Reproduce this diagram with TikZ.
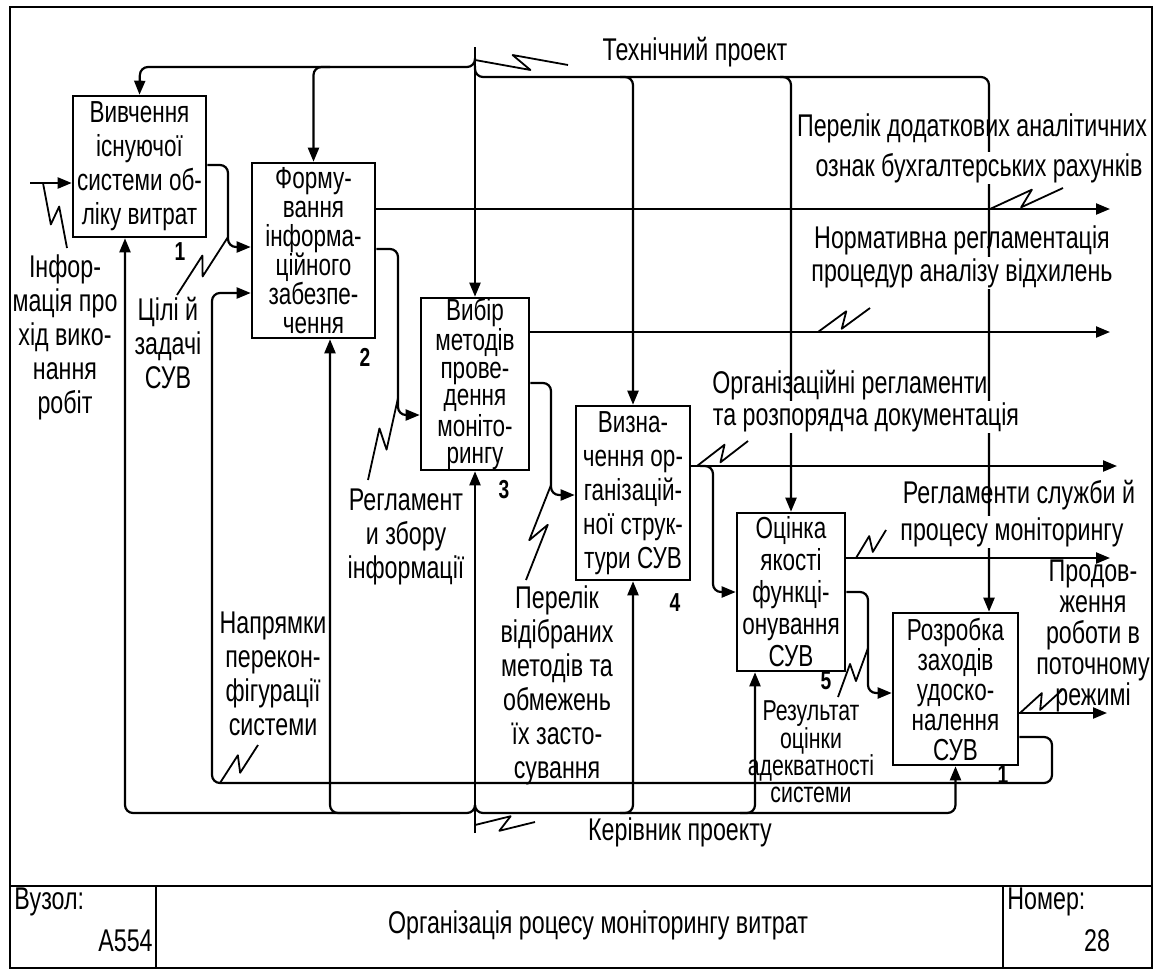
\documentclass[tikz,border=0pt]{standalone}
\usepackage{fontspec}
\setmainfont{Liberation Sans}[FakeStretch=0.74]
\usepackage{tikz}
\usetikzlibrary{arrows.meta, calc}

\begin{document}
\begin{tikzpicture}[x=0.5pt, y=-0.5pt,
    box/.style={draw, line width=1.3pt, inner sep=0pt, align=center, font=\fontsize{15.2}{#1}\selectfont},
    box/.default=16,
    lab/.style={align=center, inner sep=0pt, font=\fontsize{15.7}{#1}\selectfont},
    lab/.default=17,
    wb/.style={fill=white, inner sep=0.5pt},
    num/.style={inner sep=0pt, font=\fontsize{13}{15}\selectfont\bfseries},
    con/.style={line width=1.1pt, rounded corners=4pt},
    arr/.style={con, -{Triangle[length=7pt,width=5.5pt]}},
    zig/.style={line width=0.9pt, line join=round}]

    \useasboundingbox (0,0) rectangle (1160,969);

    % frame and title block
    \draw[line width=1pt] (10,7) rectangle (1152,968);
    \draw[line width=1.2pt] (10,886) -- (1152,886);
    \draw[line width=1pt] (156,886) -- (156,968);
    \draw[line width=1pt] (1003,886) -- (1003,968);
    \node[lab, anchor=west] (uzol) at (14,902) {Вузол:};
    \node[lab, anchor=east] (a554) at (153,941) {A554};
    \node[lab] (title) at (598,925) {Організація роцесу моніторингу витрат};
    \node[lab, anchor=west] (nomer) at (1007,902) {Номер:};
    \node[lab] (n28) at (1097,941) {28};

    % functions
    \node[box=17, minimum width=66.5pt, minimum height=70.5pt] (b1) at (139.5,166.5)
        {Вивчення\\існуючої\\системи об-\\ліку витрат};
    \node[box=14.5, minimum width=61.5pt, minimum height=87.5pt] (b2) at (313.5,250.5)
        {Форму-\\вання\\інформа-\\ційного\\забезпе-\\чення};
    \node[box=13.8, minimum width=54pt, minimum height=86pt] (b3) at (475,384)
        {Вибір\\методів\\прове-\\дення\\моніто-\\рингу};
    \node[box=17, minimum width=57pt, minimum height=87pt] (b4) at (633,493)
        {Визна-\\чення ор-\\ганізацій-\\ної струк-\\тури СУВ};
    \node[box=16, minimum width=54pt, minimum height=79pt] (b5) at (791,592)
        {Оцінка\\якості\\функці-\\онування\\СУВ};
    \node[box=15, minimum width=62.5pt, minimum height=76pt] (b6) at (955.5,689)
        {Розробка\\заходів\\удоско-\\налення\\СУВ};

    \node[num] (n1) at (180,252) {1};
    \node[num] (n2) at (365,357) {2};
    \node[num] (n3) at (504,490) {3};
    \node[num] (n4) at (675,603) {4};
    \node[num] (n5) at (826,681) {5};
    \node[num] (n6) at (1003,775) {1};

    % controls
    \coordinate (tp) at (475,47);
    \draw[arr] (tp) -- (b3.north);
    \draw[arr] (475,58) |- (140,67) -- (b1.north);
    \draw[arr] (330,67) -| (b2.north);
    \draw[arr] (475,66) |- (633,77) -- (b4.north);
    \draw[arr] (620,77) -| (b5.north);
    \draw[arr] (780,77) -| (989,0 |- b6.north);

    % mechanisms
    \coordinate (kp) at (475,833);
    \draw[arr] (kp) -- (b3.south);
    \draw[arr] (475,805) |- (125,813) -- (125,0 |- b1.south);
    \draw[arr] (400,813) -| (330,0 |- b2.south);
    \draw[arr] (475,805) |- (633,813) -- (b4.south);
    \draw[arr] (620,813) -| (755,0 |- b5.south);
    \draw[arr] (740,813) -| (b6.south);

    % input
    \coordinate (in1) at (30,183);
    \draw[arr] (in1) -- (in1 -| b1.west);

    % links between functions
    \draw[arr] (b1.east |- 0,165) -| (228,247) -- (b2.west |- 0,247);
    \draw[arr] (b2.east |- 0,249) -| (398,415) -- (b3.west |- 0,415);
    \draw[arr] (b3.east |- 0,383) -| (551,495) -- (b4.west |- 0,495);
    \draw[arr] (700,466) -| (713,592) -- (b5.west |- 0,592);
    \draw[arr] (b5.east |- 0,592) -| (868,693) -- (b6.west |- 0,693);
    \draw[arr] (b6.east |- 0,737) -| (1052,783) -| (212,293) -- (b2.west |- 0,293);

    % outputs
    \coordinate (o2) at (1110,209);
    \coordinate (o3) at (1110,332);
    \coordinate (o4) at (1117,466);
    \coordinate (o5) at (1110,558);
    \coordinate (o6) at (1107,713);
    \draw[arr] (b2.east |- o2) -- (o2);
    \draw[arr] (b3.east |- o3) -- (o3);
    \draw[arr] (b4.east |- o4) -- (o4);
    \draw[arr] (b5.east |- o5) -- (o5);
    \draw[arr] (b6.east |- o6) -- (o6);

    % labels
    \node[lab] (linf) at (65,337) {Інфор-\\мація про\\хід вико-\\нання\\робіт};
    \node[lab] (lcil) at (168,343) {Цілі й\\задачі\\СУВ};
    \node[lab] (ltech) at (695,52) {Технічний проект};
    \node[lab] (lpd) at (972,128) {Перелік додаткових аналітичних};
    \node[lab, wb] (lpd2) at (979,168) {ознак бухгалтерських рахунків};
    \node[lab] (lnr) at (962,240) {Нормативна регламентація};
    \node[lab, wb] (lnr2) at (962,273) {процедур аналізу відхилень};
    \node[lab, anchor=west] (lorg) at (712,385) {Організаційні регламенти};
    \node[lab, wb, anchor=west] (lorg2) at (711.5,417) {та розпорядча документація};
    \node[lab] (lrs) at (1019,495) {Регламенти служби й};
    \node[lab, wb] (lrs2) at (1012,532) {процесу моніторингу};
    \node[lab=15.5] (lprod) at (1093,636) {Продов-\\ження\\роботи в\\поточному\\режимі};
    \node[lab=13.6, font=\fontsize{14.4}{13.6}\selectfont] (lrez) at (811,752)
        {Результат\\оцінки\\адекватності\\системи};
    \node[lab] (lper) at (557,685) {Перелік\\відібраних\\методів та\\обмежень\\їх засто-\\сування};
    \node[lab] (lreg) at (406,537) {Регламент\\и збору\\інформації};
    \node[lab] (lnap) at (273,674) {Напрямки\\перекон-\\фігурації\\системи};
    \node[lab] (lkerv) at (680,832) {Керівник проекту};

    % squiggles from labels to arrows
    \foreach \ax/\ay/\bx/\by/\r/\s in {
        43/183/67/248/-90/90,
        228/237/177/295/90/-90,
        220/783/258/745/90/-90,
        398/398/368/480/90/-90,
        551/485/526/580/-90/90,
        475/60/568/65/-90/90,
        475/825/535/822/90/-90,
        990/209/1063/188/90/-90,
        818/332/870/308/90/-90,
        697/466/748/441/90/-90,
        856/558/886/530/90/-90,
        868/648/838/697/90/-90,
        1020/713/1062/690/90/-90
    }{
        \draw[zig] (\ax,\ay) -- ($(\ax,\ay)!0.6!(\bx,\by)!3.5pt!\r:(\bx,\by)$)
            -- ($(\ax,\ay)!0.4!(\bx,\by)!3.5pt!\s:(\bx,\by)$) -- (\bx,\by);
    }
\end{tikzpicture}
\end{document}
